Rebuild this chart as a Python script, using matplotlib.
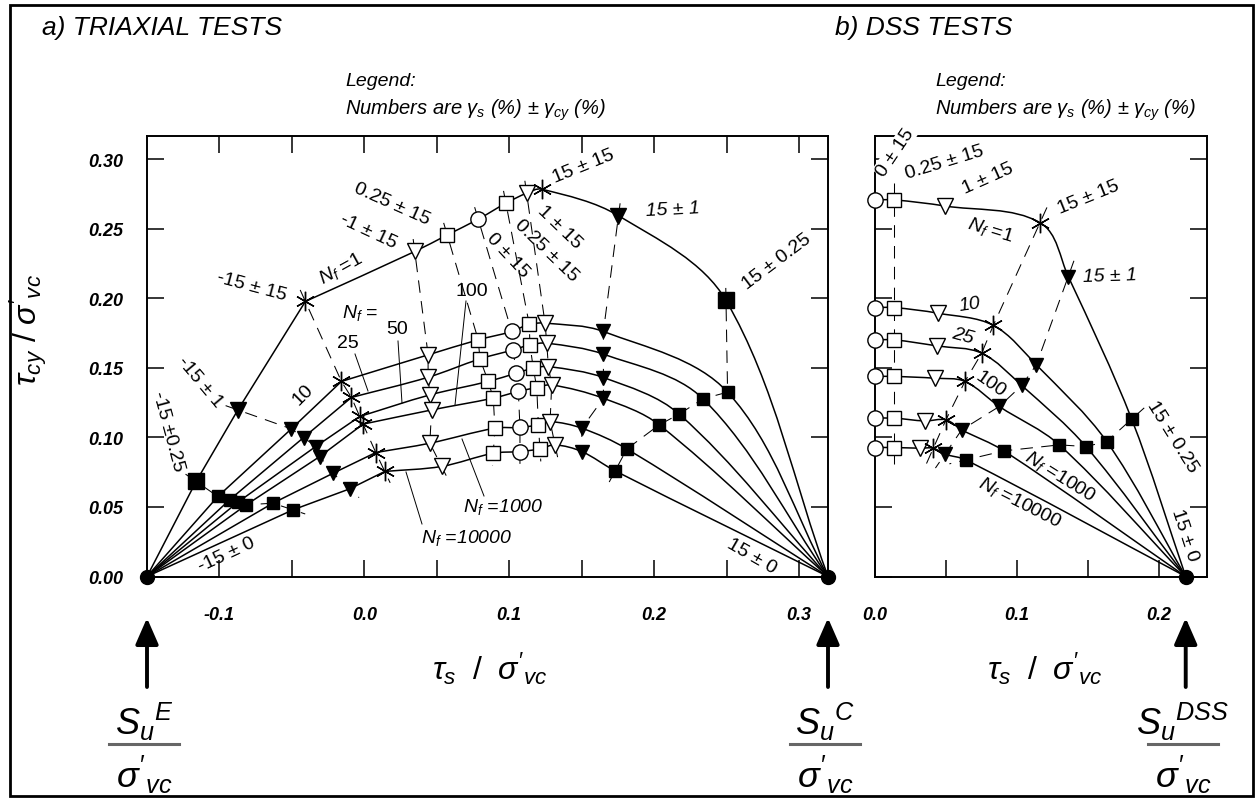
import numpy as np
import matplotlib
matplotlib.use('Agg')
import matplotlib.pyplot as plt
from matplotlib.path import Path
from matplotlib.patches import PathPatch, FancyArrowPatch, Rectangle
from matplotlib.lines import Line2D

plt.rcParams['font.family'] = ['Liberation Sans', 'DejaVu Sans']
plt.rcParams['mathtext.fontset'] = 'custom'
plt.rcParams['mathtext.rm'] = 'Liberation Sans'
plt.rcParams['mathtext.it'] = 'Liberation Sans:italic'
plt.rcParams['mathtext.bf'] = 'Liberation Sans:bold'

# ------------------------------------------------------------------ data
# a) triaxial tests: order of entries = N_f 1, 10, 25, 50, 100, 1000, 10000
SU_E = -0.150
SU_C = 0.320
tx_nf = ['1', '10', '25', '50', '100', '1000', '10000']
tx_sqf_neg_x = [-0.1161, -0.1011, -0.0930, -0.0873, -0.0815, -0.0631, -0.0493]   # -15 +- 0.25
tx_sqf_neg_y = [0.0683, 0.0575, 0.0551, 0.0534, 0.0515, 0.0527, 0.0479]
tx_trf_neg_x = [-0.0873, -0.0504, -0.0419, -0.0336, -0.0308, -0.0216, -0.0101]   # -15 +- 1
tx_trf_neg_y = [0.1197, 0.1061, 0.0999, 0.0934, 0.0862, 0.0742, 0.0630]
tx_star_neg_x = [-0.0407, -0.0158, -0.0089, -0.0032, -0.0009, 0.0079, 0.0141]   # -15 +- 15
tx_star_neg_y = [0.1977, 0.1402, 0.1287, 0.1150, 0.1095, 0.0891, 0.0755]
tx_tro_neg_x = [0.0348, 0.0440, 0.0440, 0.0452, 0.0464, 0.0452, 0.0533]         # -1 +- 15
tx_tro_neg_y = [0.2336, 0.1593, 0.1432, 0.1305, 0.1197, 0.0958, 0.0791]
tx_sqo_neg_x = [0.0572, 0.0786, 0.0798, 0.0855, 0.0890, 0.0901, 0.0890]         # -0.25 +- 15
tx_sqo_neg_y = [0.2455, 0.1701, 0.1564, 0.1402, 0.1282, 0.1066, 0.0886]
tx_circ_x = [0.0786, 0.1017, 0.1028, 0.1047, 0.1063, 0.1074, 0.1074]            # 0 +- 15
tx_circ_y = [0.2568, 0.1761, 0.1629, 0.1461, 0.1330, 0.1071, 0.0898]
tx_sqo_pos_x = [0.0977, 0.1138, 0.1143, 0.1166, 0.1190, 0.1201, 0.1212]         # 0.25 +- 15
tx_sqo_pos_y = [0.2683, 0.1813, 0.1665, 0.1497, 0.1358, 0.1090, 0.0917]
tx_tro_pos_x = [0.1120, 0.1247, 0.1259, 0.1270, 0.1293, 0.1282, 0.1316]         # 1 +- 15
tx_tro_pos_y = [0.2755, 0.1821, 0.1677, 0.1509, 0.1377, 0.1114, 0.0946]
tx_star_pos_x = [0.1223]                                                         # 15 +- 15 (N_f = 1)
tx_star_pos_y = [0.2784]
tx_trf_pos_x = [0.1754, 0.1650, 0.1650, 0.1650, 0.1650, 0.1501, 0.1501]         # 15 +- 1
tx_trf_pos_y = [0.2593, 0.1761, 0.1598, 0.1430, 0.1281, 0.1066, 0.0898]
tx_sqf_pos_x = [0.2496, 0.2507, 0.2337, 0.2173, 0.2035, 0.1812, 0.1731]         # 15 +- 0.25
tx_sqf_pos_y = [0.1984, 0.1325, 0.1277, 0.1167, 0.1090, 0.0917, 0.0759]

# b) DSS tests: order = N_f 1, 10, 25, 100, 1000, 10000
SU_DSS = 0.219
dss_nf = ['1', '10', '25', '100', '1000', '10000']
dss_circ_x = [0.0, 0.0, 0.0, 0.0, 0.0, 0.0]                                      # 0 +- 15
dss_circ_y = [0.2707, 0.1933, 0.1701, 0.1438, 0.1138, 0.0927]
dss_sqo_x = [0.0135, 0.0135, 0.0135, 0.0135, 0.0135, 0.0135]                     # 0.25 +- 15
dss_sqo_y = [0.2707, 0.1933, 0.1701, 0.1438, 0.1138, 0.0927]
dss_tro_x = [0.0493, 0.0446, 0.0439, 0.0423, 0.0352, 0.0317]                     # 1 +- 15
dss_tro_y = [0.2663, 0.1892, 0.1657, 0.1425, 0.1118, 0.0922]
dss_star_x = [0.1163, 0.0834, 0.0752, 0.0634, 0.0500, 0.0411]                    # 15 +- 15
dss_star_y = [0.2543, 0.1805, 0.1605, 0.1402, 0.1126, 0.0922]
dss_trf_x = [0.1362, 0.1137, 0.1034, 0.0876, 0.0611, 0.0493]                     # 15 +- 1
dss_trf_y = [0.2156, 0.1521, 0.1373, 0.1222, 0.1054, 0.0879]
dss_sqf_x = [0.1809, 0.1633, 0.1487, 0.1299, 0.0909, 0.0641]                     # 15 +- 0.25
dss_sqf_y = [0.1131, 0.0970, 0.0934, 0.0946, 0.0903, 0.0838]

y_ticks = [0.00, 0.05, 0.10, 0.15, 0.20, 0.25, 0.30]
y_ticklabels = ['0.00', '0.05', '0.10', '0.15', '0.20', '0.25', '0.30']
xL_ticks = [-0.10, -0.05, 0.00, 0.05, 0.10, 0.15, 0.20, 0.25, 0.30]
xL_ticklabels = ['-0.1', '', '0.0', '', '0.1', '', '0.2', '', '0.3']
xR_ticks = [0.00, 0.05, 0.10, 0.15, 0.20]
xR_ticklabels = ['0.0', '', '0.1', '', '0.2']

# ------------------------------------------------------------------ helpers
W, H = 1259, 803
fig = plt.figure(figsize=(W / 100, H / 100), dpi=100)


def fx(x):
    return x / W


def fy(y):
    return 1 - y / H


def smooth_path(pts):
    """Bezier path through the given points (tangent = neighbour chord)."""
    pts = np.asarray(pts, float)
    n = len(pts)
    tang = np.zeros_like(pts)
    for i in range(n):
        d = pts[min(i + 1, n - 1)] - pts[max(i - 1, 0)]
        tang[i] = d / np.hypot(*d)
    verts = [pts[0]]
    codes = [Path.MOVETO]
    for i in range(n - 1):
        L = np.hypot(*(pts[i + 1] - pts[i]))
        verts += [pts[i] + tang[i] * L / 3, pts[i + 1] - tang[i + 1] * L / 3, pts[i + 1]]
        codes += [Path.CURVE4] * 3
    return Path(verts, codes)


def dashed(ax, xs, ys, ext=0.009):
    xs = np.asarray(xs, float)
    ys = np.asarray(ys, float)
    p = np.column_stack([xs, ys])
    d0 = p[0] - p[1]
    d1 = p[-1] - p[-2]
    p0 = p[0] + d0 / np.hypot(*d0) * ext
    p1 = p[-1] + d1 / np.hypot(*d1) * ext
    q = np.vstack([p0, p, p1])
    ax.plot(q[:, 0], q[:, 1], color='k', lw=0.75, dashes=(12, 8), zorder=1.5)


STYLE = {
    'sqf': dict(marker='s', mfc='k', mec='k', ms=9),
    'trf': dict(marker='v', mfc='k', mec='k', ms=10),
    'star': dict(marker=(6, 2, 0), mfc='k', mec='k', ms=14, mew=1.0),
    'tro': dict(marker='v', mfc='white', mec='k', ms=12, mew=1.0),
    'sqo': dict(marker='s', mfc='white', mec='k', ms=10, mew=1.0),
    'circ': dict(marker='o', mfc='white', mec='k', ms=11, mew=1.0),
}


def mark(ax, x, y, kind, big=False):
    st = dict(STYLE[kind])
    if big and kind in ('sqf', 'trf'):
        st['ms'] = st['ms'] + 2
    ax.plot([x], [y], ls='none', zorder=4, clip_on=False, **st)


# ------------------------------------------------------------------ axes
axL = fig.add_axes([fx(147), fy(577.5), (828 - 147) / W, (577.5 - 137) / H])
axR = fig.add_axes([fx(875), fy(577.5), (1207 - 875) / W, (577.5 - 137) / H])
axL.set_xlim(SU_E, SU_C)
axL.set_ylim(0, 0.3166)
axR.set_xlim(0, 0.234)
axR.set_ylim(0, 0.3166)

tick_font = dict(fontsize=13, fontstyle='italic', fontweight='bold')
for ax in (axL, axR):
    for s in ax.spines.values():
        s.set_linewidth(1.4)
    ax.set_yticks(y_ticks)
axL.set_xticks(xL_ticks)
axL.set_xticklabels(xL_ticklabels, **tick_font)
axL.set_yticklabels(y_ticklabels, **tick_font)
axL.tick_params(direction='in', length=12, width=1.1, top=True, right=True)
axL.tick_params(axis='x', pad=21)
axL.tick_params(axis='y', pad=17)
axR.set_xticks(xR_ticks)
axR.set_xticklabels(xR_ticklabels, **tick_font)
axR.set_yticklabels([])
axR.tick_params(direction='in', length=12, width=1.1, top=False, right=True)
axR.tick_params(axis='x', pad=21)

# ------------------------------------------------------------------ triaxial curves
groups_L = [
    (tx_sqf_neg_x, tx_sqf_neg_y, 'sqf'),
    (tx_trf_neg_x, tx_trf_neg_y, 'trf'),
    (tx_star_neg_x, tx_star_neg_y, 'star'),
    (tx_tro_neg_x, tx_tro_neg_y, 'tro'),
    (tx_sqo_neg_x, tx_sqo_neg_y, 'sqo'),
    (tx_circ_x, tx_circ_y, 'circ'),
    (tx_sqo_pos_x, tx_sqo_pos_y, 'sqo'),
    (tx_tro_pos_x, tx_tro_pos_y, 'tro'),
    (tx_trf_pos_x, tx_trf_pos_y, 'trf'),
    (tx_sqf_pos_x, tx_sqf_pos_y, 'sqf'),
]
for i in range(len(tx_nf)):
    straight = [(SU_E, 0.0), (tx_sqf_neg_x[i], tx_sqf_neg_y[i]),
                (tx_trf_neg_x[i], tx_trf_neg_y[i]), (tx_star_neg_x[i], tx_star_neg_y[i])]
    sx, sy = zip(*straight)
    axL.plot(sx, sy, color='k', lw=1.1, zorder=2)
    curve = [(tx_star_neg_x[i], tx_star_neg_y[i]), (tx_tro_neg_x[i], tx_tro_neg_y[i]),
             (tx_sqo_neg_x[i], tx_sqo_neg_y[i]), (tx_circ_x[i], tx_circ_y[i]),
             (tx_sqo_pos_x[i], tx_sqo_pos_y[i]), (tx_tro_pos_x[i], tx_tro_pos_y[i])]
    if i == 0:
        curve.append((tx_star_pos_x[0], tx_star_pos_y[0]))
    curve += [(tx_trf_pos_x[i], tx_trf_pos_y[i]), (tx_sqf_pos_x[i], tx_sqf_pos_y[i]), (SU_C, 0.0)]
    axL.add_patch(PathPatch(smooth_path(curve), fc='none', ec='k', lw=1.1, zorder=2))
for gx, gy, kind in groups_L:
    dashed(axL, gx, gy)
    for i in range(len(gx)):
        mark(axL, gx[i], gy[i], kind, big=(i == 0))
mark(axL, tx_star_pos_x[0], tx_star_pos_y[0], 'star')
axL.plot([SU_E, SU_C], [0, 0], ls='none', marker='o', ms=10, color='k', zorder=5, clip_on=False)

# ------------------------------------------------------------------ DSS curves
for i in range(len(dss_nf)):
    curve = [(dss_circ_x[i], dss_circ_y[i]), (dss_sqo_x[i], dss_sqo_y[i]),
             (dss_tro_x[i], dss_tro_y[i]), (dss_star_x[i], dss_star_y[i]),
             (dss_trf_x[i], dss_trf_y[i]), (dss_sqf_x[i], dss_sqf_y[i]), (SU_DSS, 0.0)]
    axR.add_patch(PathPatch(smooth_path(curve), fc='none', ec='k', lw=1.1, zorder=2, clip_on=False))
for gx, gy in [(dss_star_x, dss_star_y), (dss_trf_x, dss_trf_y),
               (dss_sqf_x, dss_sqf_y), (dss_sqo_x, dss_sqo_y)]:
    dashed(axR, gx, gy, ext=0.012)
for gx, gy, kind in [(dss_circ_x, dss_circ_y, 'circ'), (dss_sqo_x, dss_sqo_y, 'sqo'),
                     (dss_tro_x, dss_tro_y, 'tro'), (dss_star_x, dss_star_y, 'star'),
                     (dss_trf_x, dss_trf_y, 'trf'), (dss_sqf_x, dss_sqf_y, 'sqf')]:
    for i in range(len(gx)):
        mark(axR, gx[i], gy[i], kind)
axR.plot([SU_DSS], [0], ls='none', marker='o', ms=10, color='k', zorder=5, clip_on=False)

# ------------------------------------------------------------------ annotations
LBL = 14
pm = '\u00b1'
labels = [
    # left panel
    (f'-15 {pm} 15', 252, 287, -15, 'normal'),
    (r'$N_f$ =1', 341, 269, 29, 'normal'),
    (f'-1 {pm} 15', 368, 232, -25, 'normal'),
    (f'0.25 {pm} 15', 392, 204, -24, 'normal'),
    (r'$N_f$ =', 360, 313, 0, 'normal'),
    ('25', 348, 344, 0, 'normal'),
    ('50', 397, 330, 0, 'normal'),
    ('100', 472, 292, 0, 'normal'),
    (f'-15 {pm} 1', 200, 382, -50, 'normal'),
    (f'-15 {pm}0.25', 168, 432, -75, 'normal'),
    (f'-15 {pm} 0', 227, 555, 25, 'normal'),
    ('10', 303, 395, 45, 'normal'),
    (f'15 {pm} 15', 583, 167, 22, 'normal'),
    (f'15 {pm} 1', 673, 210, 3, 'italic'),
    (f'15 {pm} 0.25', 777, 262, 37, 'normal'),
    (f'1 {pm} 15', 560, 228, -44, 'normal'),
    (f'0.25 {pm} 15', 546, 251, -44, 'normal'),
    (f'0 {pm} 15', 508, 256, -47, 'normal'),
    (r'$N_f$ =1000', 503, 507, 0, 'italic'),
    (r'$N_f$ =10000', 467, 538, 0, 'italic'),
    (f'15 {pm} 0', 752, 557, -30, 'normal'),
    # right panel
    (f'0.25 {pm} 15', 945, 163, 17, 'normal'),
    (f'1 {pm} 15', 988, 179, 24, 'normal'),
    (r'$N_f$ =1', 990, 230, -17, 'normal'),
    (f'15 {pm} 15', 1088, 198, 22, 'normal'),
    (f'15 {pm} 1', 1110, 277, 2, 'italic'),
    ('10', 970, 305, 8, 'italic'),
    ('25', 963, 336, -15, 'italic'),
    ('100', 990, 385, -35, 'normal'),
    (r'$N_f$ =1000', 1060, 477, -32, 'normal'),
    (r'$N_f$ =10000', 1020, 503, -27, 'normal'),
    (f'15 {pm} 0.25', 1172, 437, -58, 'normal'),
    (f'15 {pm} 0', 1185, 535, -72, 'normal'),
]
for txt, X, Y, rot, style in labels:
    fig.text(fx(X), fy(Y), txt, rotation=rot, fontsize=LBL, fontstyle=style,
             ha='center', va='center', rotation_mode='anchor', zorder=6)
fig.text(fx(895), fy(153), f'0 {pm} 15', rotation=56, fontsize=LBL, ha='center', va='center',
         rotation_mode='anchor', zorder=6,
         bbox=dict(fc='white', ec='none', pad=0.5))

leaders = [((355, 355), (368, 392)), ((398, 342), (402, 404)), ((466, 302), (455, 406)),
           ((484, 497), (462, 440)), ((422, 525), (406, 473))]
for (x0, y0), (x1, y1) in leaders:
    fig.add_artist(Line2D([fx(x0), fx(x1)], [fy(y0), fy(y1)], color='k', lw=0.7,
                          transform=fig.transFigure))

# titles & legends
fig.text(fx(42), fy(28), 'a) TRIAXIAL TESTS', fontsize=19, fontstyle='italic', ha='left', va='center')
fig.text(fx(835), fy(28), 'b) DSS TESTS', fontsize=19, fontstyle='italic', ha='left', va='center')
for x0 in (345, 935):
    fig.text(fx(x0), fy(82), 'Legend:', fontsize=14, fontstyle='italic', ha='left', va='center')
    fig.text(fx(x0), fy(110), r'Numbers are $\gamma_s$ (%) $\pm$ $\gamma_{cy}$ (%)', fontsize=14.5,
             fontstyle='italic', ha='left', va='center')

# axis labels
fig.text(fx(28), fy(330), r"$\tau_{cy}\ /\ \sigma'_{vc}$", rotation=90, fontsize=23,
         ha='center', va='center')
fig.text(fx(490), fy(669), r"$\tau_s\;\ /\;\ \sigma'_{vc}$", fontsize=23, ha='center', va='center')
fig.text(fx(1045), fy(669), r"$\tau_s\;\ /\;\ \sigma'_{vc}$", fontsize=23, ha='center', va='center')

# arrows and strength ratios
fig.canvas.draw()
ends = [(axL, SU_E, 'E'), (axL, SU_C, 'C'), (axR, SU_DSS, 'DSS')]
for ax, xv, sup in ends:
    xd, _ = ax.transData.transform((xv, 0))
    xf = xd / W
    fig.add_artist(FancyArrowPatch((xf, fy(688)), (xf, fy(619)), transform=fig.transFigure,
                                   arrowstyle='-|>,head_length=0.8,head_width=0.35',
                                   mutation_scale=20, lw=2.8, color='k',
                                   shrinkA=0, shrinkB=0))
    xc = xf - 3 / W
    fig.text(xc, fy(722), r'$S_u{}^{%s}$' % sup, fontsize=26, ha='center', va='center')
    fig.add_artist(Line2D([xc - 35 / W, xc + 35 / W], [fy(745), fy(745)], color='#666666', lw=2.2,
                          transform=fig.transFigure))
    fig.text(xc, fy(775), r"$\sigma'_{vc}$", fontsize=26, ha='center', va='center')

# outer frame
fig.add_artist(Rectangle((fx(10), fy(797)), (1253 - 10) / W, (797 - 6) / H, transform=fig.transFigure,
                         fill=False, lw=2.0, ec='k'))

fig.savefig('out.png', dpi=100)
